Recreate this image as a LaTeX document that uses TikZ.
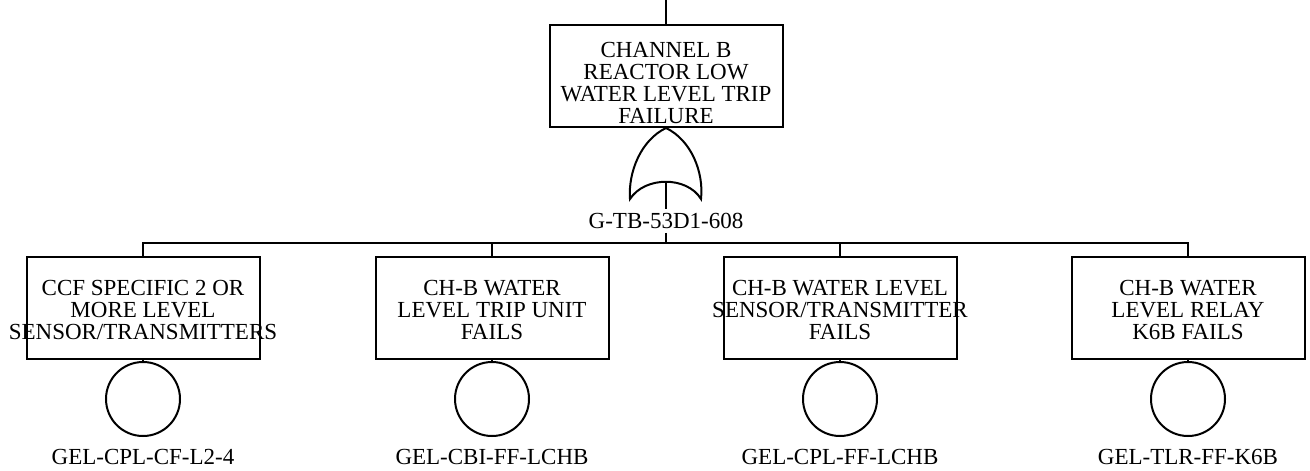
\documentclass[tikz,border=0pt]{standalone}
\usepackage{fontspec}
\setmainfont{Liberation Serif}
\begin{document}
\begin{tikzpicture}[x=1pt,y=-1pt,line width=2pt,
  evbox/.style={draw, minimum width=233pt, minimum height=102pt, inner sep=0pt},
  evtext/.style={align=center, font=\fontsize{23}{21.8}\selectfont, inner sep=0pt},
  idlabel/.style={font=\fontsize{23}{22}\selectfont, inner sep=3pt},
  basic/.style={draw, circle, minimum size=74pt, inner sep=0pt}]
\useasboundingbox (0,0) rectangle (1310,471);
% top event
\coordinate (topin) at (666,0);
\node[evbox] (top) at (666,76) {};
\node[evtext] (toptext) at (666,83) {CHANNEL B\\REACTOR LOW\\WATER LEVEL TRIP\\FAILURE};
\draw (topin) -- (top.north);
% OR gate
\coordinate (gtop) at (666,128);
\coordinate (gbot) at (666,181);
\draw (gtop) .. controls (641,140) and (628,172) .. (630,199)
  .. controls (645,176) and (687,176) .. (701,199)
  .. controls (704,172) and (691,140) .. (gtop) -- cycle;
\draw (top.south) -- (gtop);
\node[idlabel] (glabel) at (666,221) {G-TB-53D1-608};
\draw (gbot) -- (glabel.north);
\coordinate (bar) at (666,243);
\draw (glabel.south) -- (bar);
% children
\node[evbox] (c1) at (143,308) {};
\node[evbox] (c2) at (492,308) {};
\node[evbox] (c3) at (840,308) {};
\node[evbox] (c4) at (1188,308) {};
\node[evtext] (t1) at (143,310) {CCF SPECIFIC 2 OR\\MORE LEVEL\\SENSOR/TRANSMITTERS};
\node[evtext] (t2) at (492,310) {CH-B WATER\\LEVEL TRIP UNIT\\FAILS};
\node[evtext] (t3) at (840,310) {CH-B WATER LEVEL\\SENSOR/TRANSMITTER\\FAILS};
\node[evtext] (t4) at (1188,310) {CH-B WATER\\LEVEL RELAY\\K6B FAILS};
\draw (c1.north) |- (bar) -| (c4.north);
\draw (c2.north) -- (c2.north |- bar);
\draw (c3.north) -- (c3.north |- bar);
% basic events
\node[basic] (e1) at (143,399) {};
\node[basic] (e2) at (492,399) {};
\node[basic] (e3) at (840,399) {};
\node[basic] (e4) at (1188,399) {};
\foreach \i in {1,2,3,4} {\draw (c\i.south) -- (e\i.north);}
\node[idlabel] (l1) at (143,457) {GEL-CPL-CF-L2-4};
\node[idlabel] (l2) at (492,457) {GEL-CBI-FF-LCHB};
\node[idlabel] (l3) at (840,457) {GEL-CPL-FF-LCHB};
\node[idlabel] (l4) at (1188,457) {GEL-TLR-FF-K6B};
\end{tikzpicture}
\end{document}
